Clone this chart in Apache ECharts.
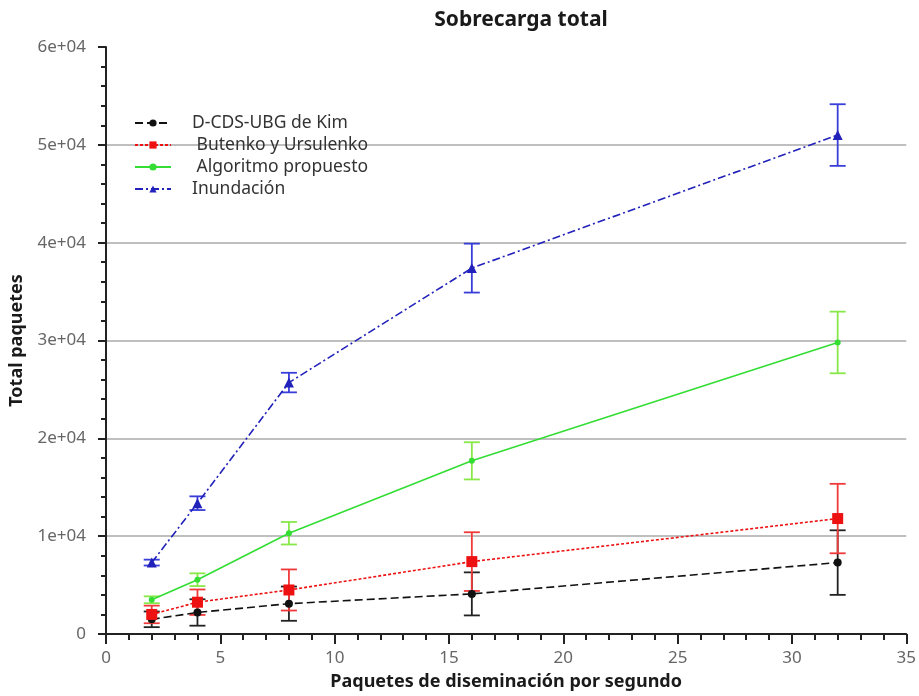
<!DOCTYPE html>
<html>
<head>
<meta charset="utf-8">
<script src="https://cdn.jsdelivr.net/npm/echarts@6/dist/echarts.min.js"></script>
<style>
  html, body { margin: 0; padding: 0; background: #fff; }
  #chart { width: 919px; height: 696px; }
</style>
</head>
<body>
<div id="chart"></div>
<script>
// Packet dissemination rate (packets per second)
const rates = [2, 4, 8, 16, 32];

// Mean total packets and error half-widths per protocol
const kimMean = [1500, 2200, 3100, 4100, 7300];
const kimErr = [800, 1350, 1750, 2200, 3300];

const butenkoMean = [2000, 3250, 4500, 7400, 11800];
const butenkoErr = [900, 1300, 2100, 3000, 3550];

const propuestoMean = [3500, 5550, 10300, 17700, 29800];
const propuestoErr = [350, 650, 1150, 1900, 3150];

const inundacionMean = [7300, 13370, 25700, 37400, 51000];
const inundacionErr = [300, 700, 1000, 2500, 3150];

const seriesNames = ['D-CDS-UBG de Kim', ' Butenko y Ursulenko', ' Algoritmo propuesto', 'Inundación'];

const FONT = 'Noto Sans';

function points(means) {
  return rates.map((x, i) => [x, means[i]]);
}
function ranges(means, errs) {
  return rates.map((x, i) => [x, means[i] - errs[i], means[i] + errs[i]]);
}

function errorBars(name, means, errs, color) {
  return {
    type: 'custom',
    name: name + ' err',
    data: ranges(means, errs),
    encode: { x: 0, y: [1, 2] },
    z: 3,
    silent: true,
    renderItem: function (params, api) {
      const lo = api.coord([api.value(0), api.value(1)]);
      const hi = api.coord([api.value(0), api.value(2)]);
      const half = 8;
      const style = { stroke: color, lineWidth: 1.8, fill: null };
      return {
        type: 'group',
        children: [
          { type: 'line', shape: { x1: lo[0], y1: lo[1], x2: hi[0], y2: hi[1] }, style: style },
          { type: 'line', shape: { x1: lo[0] - half, y1: lo[1], x2: lo[0] + half, y2: lo[1] }, style: style },
          { type: 'line', shape: { x1: hi[0] - half, y1: hi[1], x2: hi[0] + half, y2: hi[1] }, style: style }
        ]
      };
    }
  };
}

function lineSeries(name, means, color, dash, symbol, size) {
  return {
    type: 'line',
    name: name,
    data: points(means),
    symbol: symbol,
    symbolSize: size,
    showAllSymbol: true,
    z: 4,
    lineStyle: { color: color, width: 1.6, type: dash },
    itemStyle: { color: color, borderWidth: 0 }
  };
}

const chart = echarts.init(document.getElementById('chart'), null, { renderer: 'canvas' });

chart.setOption({
  animation: false,
  backgroundColor: '#ffffff',
  textStyle: { fontFamily: FONT },
  title: {
    text: 'Sobrecarga total',
    left: 516,
    top: 5,
    textAlign: 'center',
    textStyle: { fontFamily: FONT, fontSize: 21, fontWeight: 'bold', color: '#1a1a1a' }
  },
  legend: {
    data: seriesNames,
    orient: 'vertical',
    left: 129,
    top: 109,
    itemGap: 4,
    itemWidth: 36,
    itemHeight: 9,
    textStyle: { fontFamily: FONT, fontSize: 17.5, color: '#333', padding: [0, 0, 0, 16] }
  },
  grid: { left: 103, right: 11, top: 47, bottom: 61, containLabel: false },
  xAxis: {
    type: 'value',
    min: 0,
    max: 35,
    interval: 5,
    name: 'Paquetes de diseminación por segundo',
    nameLocation: 'middle',
    nameGap: 39,
    nameTextStyle: { fontFamily: FONT, fontSize: 18, fontWeight: 'bold', color: '#1a1a1a' },
    axisLine: { show: true, onZero: false, lineStyle: { color: '#222', width: 2 } },
    axisTick: { show: true, length: 10, lineStyle: { color: '#222', width: 2 } },
    minorTick: { show: true, splitNumber: 5, length: 6, lineStyle: { color: '#222', width: 2 } },
    axisLabel: { margin: 16, fontSize: 17, color: '#666', fontFamily: FONT },
    splitLine: { show: false }
  },
  yAxis: {
    type: 'value',
    min: 0,
    max: 60000,
    interval: 10000,
    name: 'Total paquetes',
    nameLocation: 'middle',
    nameGap: 80,
    nameTextStyle: { fontFamily: FONT, fontSize: 18, fontWeight: 'bold', color: '#1a1a1a' },
    axisLine: { show: true, onZero: false, lineStyle: { color: '#222', width: 2 } },
    axisTick: { show: true, length: 8, lineStyle: { color: '#222', width: 2 } },
    minorTick: { show: true, splitNumber: 5, length: 5, lineStyle: { color: '#222', width: 2 } },
    axisLabel: {
      margin: 20,
      fontSize: 17,
      color: '#666',
      fontFamily: FONT,
      formatter: function (v) { return v === 0 ? '0' : (v / 10000) + 'e+04'; }
    },
    splitLine: { show: true, showMinLine: false, showMaxLine: false, lineStyle: { color: '#aaaaaa', width: 1.6 } }
  },
  series: [
    errorBars(seriesNames[0], kimMean, kimErr, '#222222'),
    errorBars(seriesNames[1], butenkoMean, butenkoErr, '#f03a3a'),
    errorBars(seriesNames[2], propuestoMean, propuestoErr, '#88e84a'),
    errorBars(seriesNames[3], inundacionMean, inundacionErr, '#3a3ed8'),
    lineSeries(seriesNames[0], kimMean, '#111111', [8, 4], 'circle', 8),
    lineSeries(seriesNames[1], butenkoMean, '#ee1111', [3, 2], 'rect', 11),
    lineSeries(seriesNames[2], propuestoMean, '#33dd33', 'solid', 'circle', 6),
    lineSeries(seriesNames[3], inundacionMean, '#2222bb', [8, 3, 2, 3], 'triangle', 10)
  ]
});
</script>
</body>
</html>
